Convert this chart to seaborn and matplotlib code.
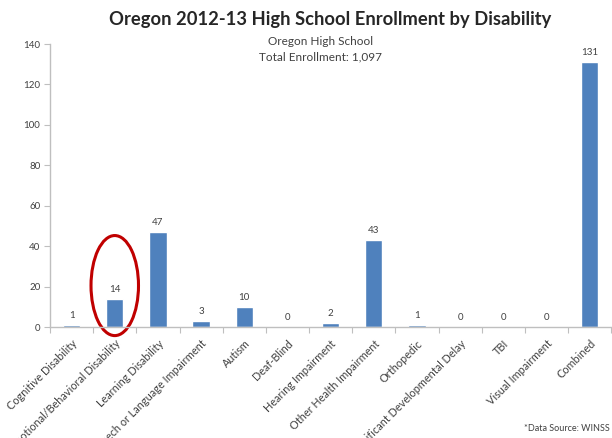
import matplotlib
matplotlib.use("Agg")
import matplotlib.pyplot as plt
from matplotlib.patches import Ellipse
import seaborn as sns
import pandas as pd
import numpy as np

categories = [
    "Cognitive Disability", "Emotional/Behavioral Disability", "Learning Disability",
    "Speech or Language Impairment", "Autism", "Deaf-Blind", "Hearing Impairment",
    "Other Health Impairment", "Orthopedic", "Significant Developmental Delay",
    "TBI", "Visual Impairment", "Combined",
]
enrollment = [1, 14, 47, 3, 10, 0, 2, 43, 1, 0, 0, 0, 131]
y_ticks = [0, 20, 40, 60, 80, 100, 120, 140]
highlight = "Emotional/Behavioral Disability"

sns.set_theme(style="white")
plt.rcParams["font.family"] = ["Lato", "DejaVu Sans"]

df = pd.DataFrame({"Disability": categories, "Students": enrollment})

fig = plt.figure(figsize=(6.12, 4.38), dpi=100)
ax = fig.add_axes([0.0817, 0.2534, 0.917, 0.6461])

sns.barplot(data=df, x="Disability", y="Students", color="#4F81BD",
            saturation=1, width=0.4, ax=ax)

ax.set_xlim(-0.5, len(categories) - 0.5)
ax.set_ylim(0, 140)
ax.set_yticks(y_ticks)
ax.set_xlabel("")
ax.set_ylabel("")

# value labels above bars
for i, v in enumerate(enrollment):
    ax.text(i, v + 2.5, str(v), ha="center", va="bottom", fontsize=7, color="#404040")

# axis styling
for s in ["top", "right"]:
    ax.spines[s].set_visible(False)
for s in ["left", "bottom"]:
    ax.spines[s].set_color("#BFBFBF")
    ax.spines[s].set_linewidth(1.0)

ax.tick_params(axis="y", which="major", left=True, length=4, width=0.8,
               color="#BFBFBF", labelsize=7, labelcolor="#404040", pad=3)
ax.tick_params(axis="x", which="major", bottom=False, labelsize=7.8,
               labelcolor="#404040", pad=2)
ax.set_xticks(np.arange(-0.5, len(categories) + 0.5, 1), minor=True)
ax.tick_params(axis="x", which="minor", bottom=True, length=4, width=0.8,
               color="#BFBFBF")
ax.set_xticks(range(len(categories)))
ax.set_xticklabels(categories, rotation=45, ha="right", rotation_mode="anchor")

# red ring around the highlighted category
hi = categories.index(highlight)
ax.add_patch(Ellipse((hi, 20.5), width=1.1, height=49.5, fill=False,
                     edgecolor="#C00000", linewidth=2.2, clip_on=False))

fig.text(0.54, 0.955, "Oregon 2012-13 High School Enrollment by Disability",
         ha="center", va="center", fontsize=13.2, fontweight="bold", color="#262626")
fig.text(0.523, 0.905, "Oregon High School", ha="center", va="center",
         fontsize=8.5, color="#404040")
fig.text(0.523, 0.87, "Total Enrollment: 1,097", ha="center", va="center",
         fontsize=8.5, color="#404040")
fig.text(0.997, 0.022, "*Data Source: WINSS", ha="right", va="center",
         fontsize=6.5, color="#404040")

fig.savefig("out.png", dpi=100)
